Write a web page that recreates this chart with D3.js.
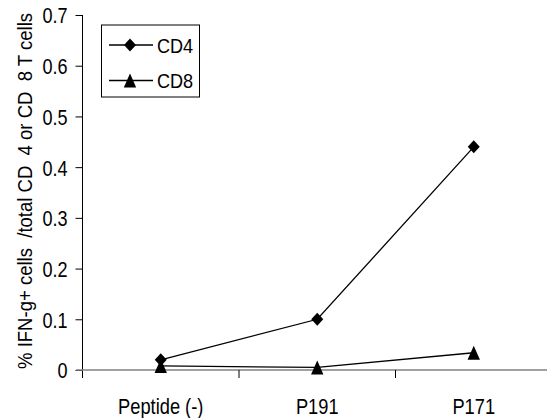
<!DOCTYPE html>
<html>
<head>
<meta charset="utf-8">
<script src="https://cdn.jsdelivr.net/npm/d3@7"></script>
<style>
  body { margin: 0; background: #fff; }
  svg text { font-family: "Liberation Sans", Arial, sans-serif; fill: #000; }
</style>
</head>
<body>
<svg id="chart" width="547" height="418"></svg>
<script>
const categories = ["Peptide (-)", "P191", "P171"];
const cd4Values = [0.02, 0.1, 0.44];
const cd8Values = [0.008, 0.005, 0.034];
const yTicks = [0, 0.1, 0.2, 0.3, 0.4, 0.5, 0.6, 0.7];
const seriesNames = ["CD4", "CD8"];
const yTitle = "% IFN-g+ cells  /total CD  4 or CD  8 T cells";

const svg = d3.select("#chart");

var margin = { left: 82.5, top: 15 };

var xScale = d3.scaleBand()
    .domain(categories)
    .range([margin.left, margin.left + 156.5 * 3])
    .padding(0);

var yScale = d3.scaleLinear()
    .domain([0, 0.7])
    .range([370, margin.top]);

// squeeze text horizontally (reference font is a narrow Arial)
function narrow(sel, k) {
  sel.each(function () {
    const len = this.getComputedTextLength();
    d3.select(this).attr("textLength", len * k).attr("lengthAdjust", "spacingAndGlyphs");
  });
}

// y axis
const yAxis = svg.append("g")
    .attr("transform", "translate(" + margin.left + ",0)")
    .call(d3.axisLeft(yScale).tickValues(yTicks).tickFormat(d3.format("")).tickSize(7).tickSizeOuter(0));
yAxis.select(".domain").attr("stroke", "#000").attr("d", "M0," + yScale(0.7) + "V" + (yScale(0) + 8));
yAxis.selectAll(".tick line").attr("stroke", "#000");
yAxis.selectAll(".tick text")
    .attr("font-family", null)
    .style("font-size", "22px")
    .attr("x", -15)
    .attr("dy", "0.36em")
    .call(narrow, 0.82);

// x axis (gray) with ticks between categories
const xg = svg.append("g").attr("transform", "translate(0," + yScale(0) + ")");
xg.append("line")
    .attr("x1", 76).attr("x2", 547)
    .attr("stroke", "#808080").attr("stroke-width", 1.5);
xg.selectAll(".sep")
    .data(categories.slice(1))
    .enter().append("line")
    .attr("x1", d => xScale(d)).attr("x2", d => xScale(d))
    .attr("y1", 0).attr("y2", 8)
    .attr("stroke", "#000");
xg.selectAll(".lbl")
    .data(categories)
    .enter().append("text")
    .attr("x", d => xScale(d) + xScale.bandwidth() / 2)
    .attr("y", 44)
    .attr("text-anchor", "middle")
    .style("font-size", "22px")
    .text(d => d)
    .call(narrow, 0.83);

// y title (keeps the double spaces of the original); tall narrow glyphs via scale
svg.append("text")
    .attr("transform", "translate(32,191) rotate(-90) scale(1,1.25)")
    .attr("text-anchor", "middle")
    .attr("xml:space", "preserve")
    .style("white-space", "pre")
    .style("font-size", "16px")
    .attr("textLength", 356)
    .attr("lengthAdjust", "spacingAndGlyphs")
    .text(yTitle);

const cx = d => xScale(d) + xScale.bandwidth() / 2;
const line = d3.line().x(d => cx(d.c)).y(d => yScale(d.v));

// marker shapes
const diamondType = { draw(ctx) { ctx.moveTo(0, -6.5); ctx.lineTo(6, 0); ctx.lineTo(0, 6.5); ctx.lineTo(-6, 0); ctx.closePath(); } };
const triType = { draw(ctx) { ctx.moveTo(0, -7); ctx.lineTo(6.2, 7); ctx.lineTo(-6.2, 7); ctx.closePath(); } };
const diamond = d3.symbol().type(diamondType)();
const tri = d3.symbol().type(triType)();

function drawSeries(vals, path) {
  const pts = categories.map((c, i) => ({ c: c, v: vals[i] }));
  svg.append("path").datum(pts)
      .attr("d", line).attr("fill", "none").attr("stroke", "#000").attr("stroke-width", 1.3);
  svg.selectAll(null).data(pts).enter().append("path")
      .attr("d", path)
      .attr("transform", d => "translate(" + cx(d.c) + "," + yScale(d.v) + ")")
      .attr("fill", "#000");
}
drawSeries(cd4Values, diamond);
drawSeries(cd8Values, tri);

// legend
const lg = svg.append("g");
lg.append("rect").attr("x", 101.5).attr("y", 25).attr("width", 98).attr("height", 72)
    .attr("fill", "#fff").attr("stroke", "#000");
const legendMarks = [diamond, tri];
seriesNames.forEach((s, i) => {
  const yy = 45 + i * 35.5;
  lg.append("line").attr("x1", 109).attr("x2", 153).attr("y1", yy).attr("y2", yy)
      .attr("stroke", "#000").attr("stroke-width", 1.3);
  lg.append("path").attr("d", legendMarks[i])
      .attr("transform", "translate(130," + yy + ")")
      .attr("fill", "#000");
  lg.append("text").attr("x", 157).attr("y", yy).attr("dy", "0.36em")
      .style("font-size", "21px").text(s)
      .call(narrow, 0.86);
});
</script>
</body>
</html>
